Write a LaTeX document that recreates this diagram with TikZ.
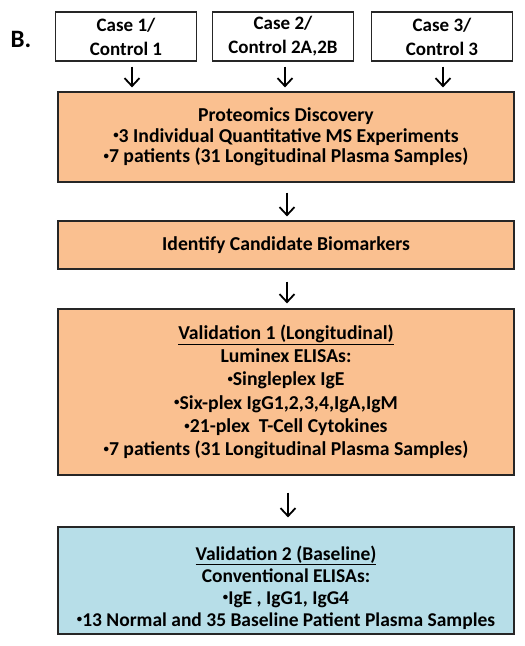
\documentclass[tikz,border=0pt]{standalone}
\usepackage{fontspec}
\setmainfont{Carlito}
\usetikzlibrary{arrows.meta}
\definecolor{boxorange}{HTML}{FAC090}
\definecolor{boxblue}{HTML}{B7DEE8}
\newcommand{\bul}{\raisebox{0.18em}{\scalebox{0.55}{•}}}
\tikzset{
  casebox/.style={draw=black!85, line width=1.2pt, fill=white, minimum width=141pt, minimum height=49pt, inner sep=0pt, align=center, font=\fontsize{19}{24}\selectfont\bfseries},
  obox/.style={draw=black!85, line width=1.2pt, fill=boxorange, minimum width=456pt, inner sep=0pt, align=center, font=\fontsize{19.7}{20.5}\selectfont\bfseries},
  bbox/.style={draw=black!85, line width=1.2pt, fill=boxblue, minimum width=456pt, inner sep=0pt},
  txt/.style={inner sep=0pt, align=center},
  arr/.style={line width=1.8pt, -{Straight Barb[length=8pt,width=15pt,line width=1.8pt]}},
}
\begin{document}
\begin{tikzpicture}[x=1pt,y=-1pt]
\useasboundingbox (0,0) rectangle (525,646);
\node[inner sep=0pt, font=\fontsize{25}{25}\selectfont\bfseries] (lab) at (21,39) {B.};
\node[casebox] (c1) at (126,36.5) {Case 1/\\Control 1};
\node[casebox] (c2) at (283,36.5) {Case 2/\\Control 2A,2B};
\node[casebox] (c3) at (442,36.5) {Case 3/\\Control 3};
\node[obox, minimum height=90pt] (disc) at (286,137) {Proteomics Discovery\\\bul3 Individual Quantitative MS Experiments\\\bul7 patients (31 Longitudinal Plasma Samples)};
\node[obox, minimum height=48pt] (ident) at (286,245) {Identify Candidate Biomarkers};
\node[obox, minimum height=166pt, font=\fontsize{19.7}{23.3}\selectfont\bfseries] (val1) at (286,392) {\underline{Validation 1 (Longitudinal)}\\Luminex ELISAs:\\\bul Singleplex IgE\\\bul Six-plex IgG1,2,3,4,IgA,IgM\\\bul 21-plex\ \ T-Cell Cytokines\\\bul7 patients (31 Longitudinal Plasma Samples)};
\node[bbox, minimum height=107pt] (val2) at (286,580.5) {};
\node[txt, font=\fontsize{19.5}{22}\selectfont\bfseries] (val2t) at ([yshift=-7pt]val2.center) {\underline{Validation 2 (Baseline)}\\Conventional ELISAs:\\\bul IgE , IgG1, IgG4\\\bul13 Normal and 35 Baseline Patient Plasma Samples};
\draw[arr, shorten <=5pt, shorten >=4pt] ([xshift=6pt]c1.south) -- ([xshift=6pt]c1.south |- disc.north);
\draw[arr, shorten <=5pt, shorten >=4pt] ([xshift=2pt]c2.south) -- ([xshift=2pt]c2.south |- disc.north);
\draw[arr, shorten <=5pt, shorten >=4pt] ([xshift=1pt]c3.south) -- ([xshift=1pt]c3.south |- disc.north);
\draw[arr, shorten <=10pt, shorten >=4pt] ([xshift=1pt]disc.south) -- ([xshift=1pt]ident.north);
\draw[arr, shorten <=12pt, shorten >=5pt] ([xshift=1pt]ident.south) -- ([xshift=1pt]val1.north);
\draw[arr, shorten <=17pt, shorten >=9pt] ([xshift=2pt]val1.south) -- ([xshift=2pt]val2.north);
\end{tikzpicture}
\end{document}
